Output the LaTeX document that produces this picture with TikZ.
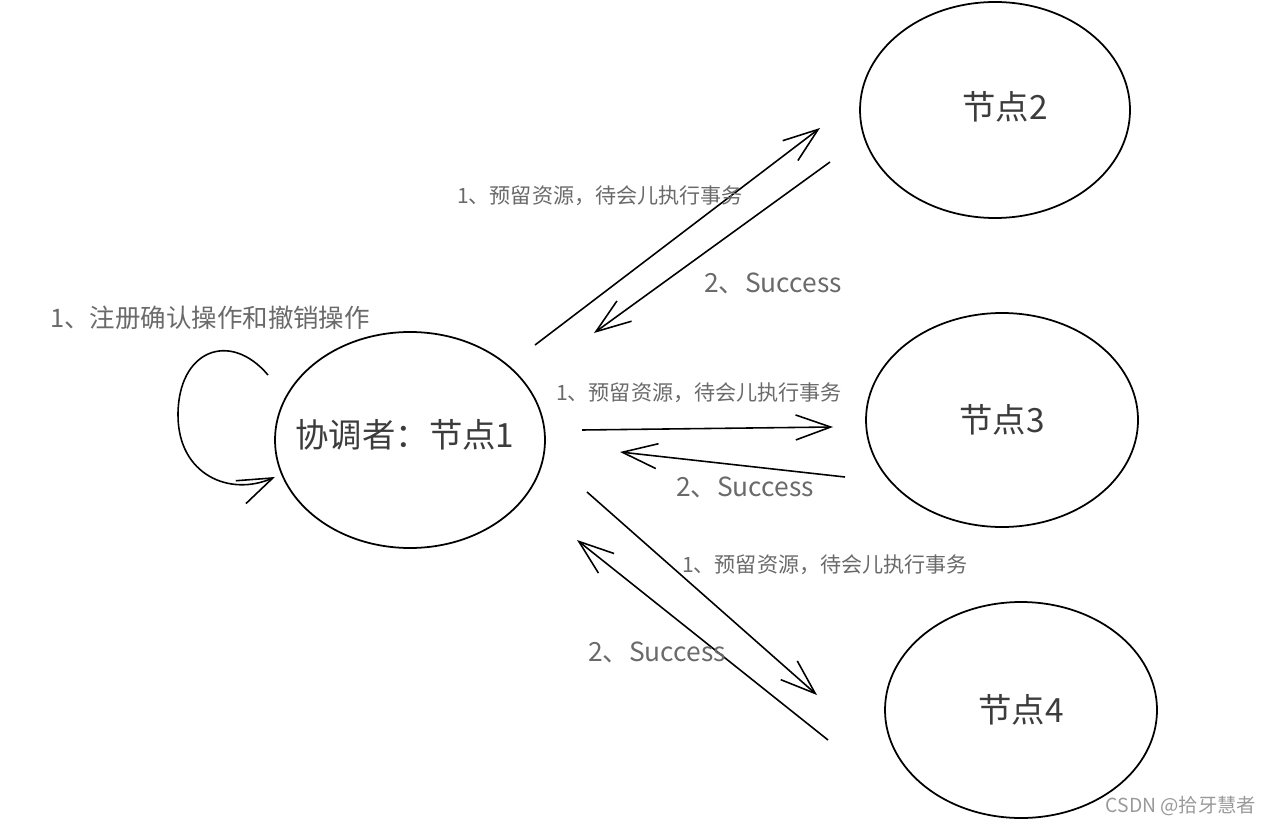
\documentclass[tikz,border=0pt]{standalone}
\usepackage{fontspec}
\setmainfont{Noto Sans CJK SC}
\usepackage{tikz}
\usetikzlibrary{shapes.geometric,arrows.meta,positioning}
\definecolor{inkgray}{HTML}{6A6A6A}
\definecolor{nodegray}{HTML}{3C3C3C}

\begin{document}
\begin{tikzpicture}[
        peer/.style={ellipse, draw, line width=1pt, inner sep=0pt, minimum width=5.4cm, minimum height=4.32cm},
        peertext/.style={text=nodegray, font=\fontsize{19}{22}\selectfont},
        arr/.style={line width=0.9pt, -{Straight Barb[length=7mm, width=5mm, line width=0.9pt]}},
        msg/.style={text=inkgray, font=\fontsize{12}{14}\selectfont},
        ok/.style={text=inkgray, font=\fontsize{15}{18}\selectfont}]
        \useasboundingbox (0,0) rectangle (25.44,-16.52);
        %Nodes
        \node[peer] (n1) at (8.2,-8.8) {};
        \node[peer] (n2) at (19.9,-2.2) {};
        \node[peer, minimum width=5.44cm, minimum height=4.28cm] (n3) at (20.04,-8.4) {};
        \node[peer, minimum width=5.44cm] (n4) at (20.42,-14.2) {};
        %Node names
        \node[peertext] (t1) at ([shift={(-0.1,0.1)}]n1) {协调者：节点1};
        \node[peertext] (t2) at ([shift={(0.2,0.06)}]n2) {节点2};
        \node[peertext] (t3) at (n3) {节点3};
        \node[peertext] (t4) at (n4) {节点4};
        %Arrow ends
        \coordinate (a12s) at (10.7,-6.9);
        \coordinate (a12e) at (16.4,-2.56);
        \coordinate (a21s) at (16.6,-3.24);
        \coordinate (a21e) at (11.88,-6.66);
        \coordinate (a13s) at (11.64,-8.6);
        \coordinate (a13e) at (16.66,-8.54);
        \coordinate (a31s) at (16.9,-9.54);
        \coordinate (a31e) at (12.4,-9.04);
        \coordinate (a14s) at (11.74,-9.84);
        \coordinate (a14e) at (16.34,-13.9);
        \coordinate (a41s) at (16.56,-14.8);
        \coordinate (a41e) at (11.54,-10.8);
        \coordinate (ls) at (5.36,-7.5);
        \coordinate (lm) at (3.56,-8.3);
        \coordinate (le) at (5.5,-9.54);
        %Self loop
        \draw[arr] (ls) .. controls (4.6,-6.6) and (3.56,-7.0) .. (lm)
                        .. controls (3.56,-9.5) and (4.6,-9.94) .. (le);
        \node[msg, font=\fontsize{14.5}{16}\selectfont] (lreg) at (4.2,-6.36) {1、注册确认操作和撤销操作};
        %Arrows
        \draw[arr] (a12s) -- (a12e);
        \draw[arr] (a21s) -- (a21e);
        \draw[arr] (a13s) -- (a13e);
        \draw[arr] (a31s) -- (a31e);
        \draw[arr] (a14s) -- (a14e);
        \draw[arr] (a41s) -- (a41e);
        %Labels
        \node[msg] (l12) at (12.0,-3.92) {1、预留资源，待会儿执行事务};
        \node[ok] (s21) at (15.46,-5.66) {2、Success};
        \node[msg] (l13) at (13.98,-7.86) {1、预留资源，待会儿执行事务};
        \node[ok] (s31) at (14.9,-9.74) {2、Success};
        \node[msg] (l14) at (16.5,-11.3) {1、预留资源，待会儿执行事务};
        \node[ok] (s41) at (13.14,-13.04) {2、Success};
        \node[text=gray!80, font=\fontsize{11}{13}\selectfont] (wm) at (23.62,-16.12) {CSDN @拾牙慧者};
      \end{tikzpicture}
\end{document}
